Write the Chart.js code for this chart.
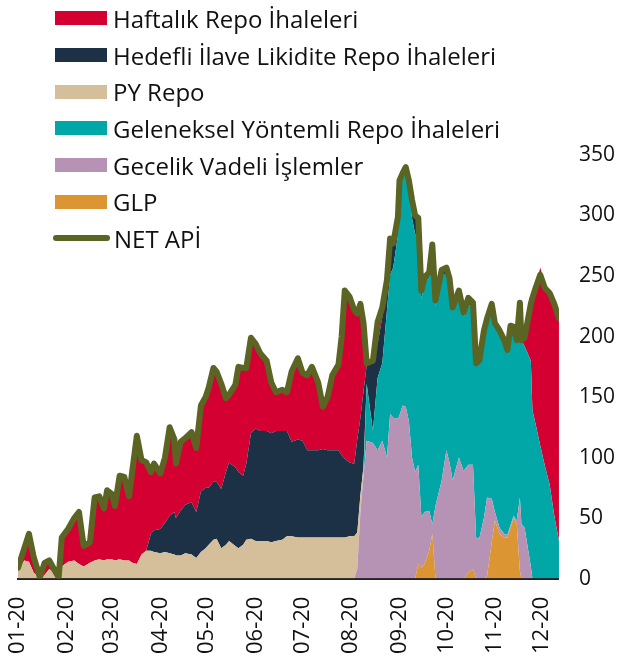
<!DOCTYPE html>
<html>
<head>
<meta charset="utf-8">
<script src="https://cdn.jsdelivr.net/npm/chart.js@4.4.0/dist/chart.umd.min.js"></script>
<style>
  html, body { margin: 0; padding: 0; background: #fff; }
  #wrap { position: relative; width: 642px; height: 662px; }
  #legend { position: absolute; left: 55px; top: 0; font-family: 'Open Sans', sans-serif; font-size: 24px; color: #111; }
  .li { display: flex; align-items: center; height: 36.7px; white-space: nowrap; }
  .sw { width: 52px; height: 14px; margin-right: 6px; }
  .ln { width: 57px; height: 6px; border-radius: 3px; margin-left: -2px; margin-right: 4px; }
</style>
</head>
<body>
<div id="wrap">
  <canvas id="c" width="642" height="662"></canvas>
  <div id="legend"></div>
</div>
<script>
// day of 2020 (0 = 1 Jan) for each reading
const days = [0,4,7,10,14,17,20,23,26,28,32,36,39,42,46,49,52,55,57,60,62,65,68,71,73,76,79,82,85,87,
  91,94,97,100,101,104,107,111,114,117,120,122,125,127,130,133,135,139,141,144,146,149,152,155,159,162,165,169,172,175,
  179,182,185,188,192,195,198,201,205,207,209,212,215,217,219,221,223,227,230,233,236,238,240,243,244,246,248,250,252,254,
  256,258,260,263,265,267,271,274,276,278,282,285,288,291,293,295,298,300,303,305,308,311,313,315,317,319,321,322,324,328,
  329,331,334,337,340,343,346];

const netApi = [9,25,37,18,1,13,15,8,1,34,41,50,55,27,30,67,68,58,73,70,60,85,84,68,88,118,98,96,88,95,
  87,100,125,115,95,113,116,121,108,143,150,158,174,171,161,149,152,160,175,174,174,199,194,186,180,162,154,156,154,171,
  182,170,168,175,162,142,150,168,177,200,238,233,222,219,227,211,178,180,212,224,247,281,277,299,329,335,340,329,313,300,
  298,238,249,253,276,230,255,257,248,224,238,220,232,228,178,180,205,215,227,211,205,197,189,209,208,197,228,197,199,227,
  232,240,251,240,236,227,215];

const glp = [0,0,0,0,0,0,0,0,0,0,0,0,0,0,0,0,0,0,0,0,0,0,0,0,0,0,0,0,0,0,
  0,0,0,0,0,0,0,0,0,0,0,0,0,0,0,0,0,0,0,0,0,0,0,0,0,0,0,0,0,0,
  0,0,0,0,0,0,0,0,0,0,0,0,0,0,0,0,0,0,0,0,0,0,0,0,0,0,0,0,0,0,
  12,9,12,23,37,0,0,0,0,0,0,0,5,8,0,0,0,2,30,48,37,34,34,42,50,45,6,0,0,0,
  0,0,0,0,0,0,0];

const gecelik = [0,0,0,0,0,0,0,0,0,0,0,0,0,0,0,0,0,0,0,0,0,0,0,0,0,0,0,0,0,0,
  0,0,0,0,0,0,0,0,0,0,0,0,0,0,0,0,0,0,0,0,0,0,0,0,0,0,0,0,0,0,
  0,0,0,0,0,0,0,0,0,0,0,0,0,8,55,85,114,112,106,114,100,136,133,132,135,143,142,130,100,88,
  82,42,43,33,8,60,81,106,96,81,100,89,89,86,34,33,50,65,36,7,5,3,2,2,2,3,61,45,42,10,
  0,0,0,0,0,0,0];

const geleneksel = [0,0,0,0,0,0,0,0,0,0,0,0,0,0,0,0,0,0,0,0,0,0,0,0,0,0,0,0,0,0,
  0,0,0,0,0,0,0,0,0,0,0,0,0,0,0,0,0,0,0,0,0,0,0,0,0,0,0,0,0,0,
  0,0,0,0,0,0,0,0,0,0,0,0,0,0,0,0,47,10,60,64,122,115,124,152,185,187,193,194,198,197,
  190,180,190,193,226,165,170,146,147,140,133,127,133,129,144,147,155,148,161,156,163,160,153,165,156,149,161,152,150,170,
  139,128,110,93,78,52,31];

const pyRepo = [7,15,14,5,0,3,8,5,1,10,14,15,12,10,13,15,16,15,16,16,15,16,15,15,13,12,20,23,23,22,
  21,22,21,20,19,19,21,20,17,22,25,28,32,33,25,28,31,27,25,28,32,33,31,31,31,30,31,32,35,35,
  34,34,34,34,34,34,34,34,34,34,34,35,35,30,14,8,0,0,0,0,0,0,0,0,0,0,0,0,0,0,
  0,0,0,0,0,0,0,0,0,0,0,0,0,0,0,0,0,0,0,0,0,0,0,0,0,0,0,0,0,0,
  0,0,0,0,0,0,0];

const hedefli = [0,0,0,0,0,0,0,0,0,0,0,0,0,0,0,0,0,0,0,0,0,0,0,0,0,0,0,0,14,18,
  20,24,31,35,31,37,40,43,38,50,50,47,48,47,49,60,65,65,63,57,63,87,93,91,91,90,91,90,87,78,
  81,80,72,72,72,73,72,72,72,68,65,61,60,77,64,62,15,58,28,38,20,25,20,15,9,5,5,5,15,15,
  14,7,4,4,5,5,4,5,5,3,5,4,5,5,0,0,0,0,0,0,0,0,0,0,0,0,0,0,0,0,
  0,0,0,0,0,0,0];

const haftalik = [2,10,23,13,1,10,7,3,0,24,27,35,43,17,17,52,52,43,57,54,45,69,69,53,75,106,78,73,51,55,
  46,54,73,60,45,57,55,58,53,71,75,83,94,91,87,61,56,68,87,89,79,79,70,64,58,42,32,34,32,58,
  67,56,62,69,56,35,44,62,71,98,139,137,127,104,94,56,2,0,18,8,5,5,0,0,0,0,0,0,0,0,
  0,0,0,0,0,0,0,0,0,0,0,0,0,0,0,0,0,0,0,0,0,0,0,0,0,0,0,0,7,47,
  93,112,147,150,160,176,184];

const monthStarts = [0,31,60,91,121,152,182,213,244,274,305,335];
const tickLabels = ['01-20','02-20','03-20','04-20','05-20','06-20','07-20','08-20','09-20','10-20','11-20','12-20'];

const COL = {
  haftalik: '#d40032', hedefli: '#1d3146', py: '#d5bf9b', geleneksel: '#00a7a6',
  gecelik: '#b693b5', glp: '#dc9533', net: '#5b6422'
};

const pts = arr => arr.map((v, i) => ({ x: days[i], y: v }));
const area = (label, arr, color, fill) => ({
  label, data: pts(arr), backgroundColor: color, borderColor: color, borderWidth: 0,
  pointRadius: 0, fill, stack: 'repo', tension: 0
});

const datasets = [
  { label: 'NET APİ', data: pts(netApi), borderColor: COL.net, borderWidth: 6, pointRadius: 0,
    fill: false, stack: 'net', tension: 0, borderJoinStyle: 'round', borderCapStyle: 'round' },
  area('GLP', glp, COL.glp, 'origin'),
  area('Gecelik Vadeli İşlemler', gecelik, COL.gecelik, '-1'),
  area('Geleneksel Yöntemli Repo İhaleleri', geleneksel, COL.geleneksel, '-1'),
  area('PY Repo', pyRepo, COL.py, '-1'),
  area('Hedefli İlave Likidite Repo İhaleleri', hedefli, COL.hedefli, '-1'),
  area('Haftalık Repo İhaleleri', haftalik, COL.haftalik, '-1')
];

// legend
const legendItems = [
  ['Haftalık Repo İhaleleri', COL.haftalik], ['Hedefli İlave Likidite Repo İhaleleri', COL.hedefli],
  ['PY Repo', COL.py], ['Geleneksel Yöntemli Repo İhaleleri', COL.geleneksel],
  ['Gecelik Vadeli İşlemler', COL.gecelik], ['GLP', COL.glp]
];
document.getElementById('legend').innerHTML =
  legendItems.map(([t, c]) => `<div class="li"><span class="sw" style="background:${c}"></span>${t}</div>`).join('') +
  `<div class="li"><span class="ln" style="background:${COL.net}"></span>NET APİ</div>`;

const family = "'Open Sans', sans-serif";

new Chart(document.getElementById('c'), {
  type: 'line',
  data: { datasets },
  options: {
    responsive: false, animation: false,
    layout: { padding: { top: 155, left: 17, right: 7, bottom: -10 } },
    plugins: { legend: { display: false }, tooltip: { enabled: false } },
    scales: {
      x: {
        type: 'linear', min: 0, max: 346,
        grid: { display: false, drawTicks: false },
        border: { display: true, color: '#222', width: 2 },
        afterBuildTicks: a => { a.ticks = monthStarts.map(v => ({ value: v })); },
        ticks: { autoSkip: false, minRotation: 90, maxRotation: 90, padding: 18, font: { family, size: 22 }, color: '#111',
          callback: (v, i) => tickLabels[i] }
      },
      y: {
        position: 'right', stacked: true, min: 0, max: 350,
        grid: { display: false, drawTicks: false },
        border: { display: false },
        ticks: { stepSize: 50, padding: 20, font: { family, size: 21 }, color: '#111' }
      }
    }
  }
});
</script>
</body>
</html>
